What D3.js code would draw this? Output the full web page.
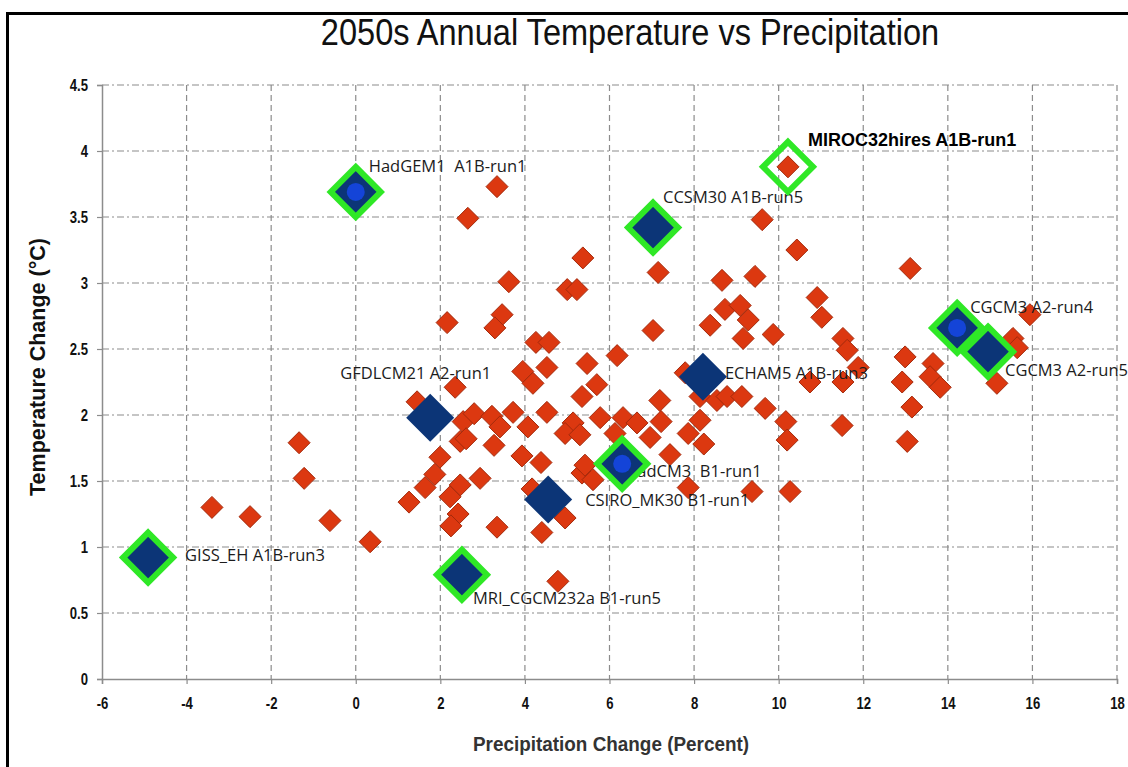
<!DOCTYPE html>
<html>
<head>
<meta charset="utf-8">
<script src="https://cdn.jsdelivr.net/npm/d3@7"></script>
<style>
body{margin:0;background:#fff;}
</style>
</head>
<body>
<div id="chart"></div>
<script>
// all model runs: precipitation change (percent) and temperature change (deg C)
var precip = [-3.40,-2.50,-1.34,-1.22,-0.61,0.34,1.26,1.45,2.16,2.65,3.34,3.62,3.46,3.29,4.26,4.57,5.37,5.00,5.23,3.95,
  4.19,4.52,2.35,2.54,2.80,3.22,3.41,3.72,4.07,4.52,2.47,2.61,3.27,3.93,4.38,1.99,1.87,1.64,2.94,2.47,
  2.23,2.42,2.25,3.34,4.40,4.95,4.17,4.78,5.35,5.61,5.42,5.47,6.18,5.70,5.35,5.78,6.32,6.65,5.14,4.95,
  5.30,6.13,6.96,7.19,7.22,7.15,7.03,7.79,8.14,7.86,8.23,7.43,7.86,8.38,8.66,9.44,10.43,9.61,10.91,11.02,
  8.73,9.09,9.28,9.16,9.87,11.52,11.62,10.74,11.52,8.14,8.54,8.78,9.13,9.68,10.17,10.20,9.37,10.27,11.50,13.11,
  12.99,11.88,12.92,13.65,13.58,13.82,13.15,13.04,15.94,15.54,15.64,15.16,10.22];
var temp = [1.30,1.23,1.79,1.52,1.20,1.04,1.34,2.10,2.70,3.49,3.73,3.01,2.76,2.66,2.55,2.55,3.19,2.95,2.95,2.33,
  2.24,2.36,2.21,1.95,2.01,1.99,1.91,2.02,1.91,2.02,1.80,1.82,1.77,1.69,1.64,1.68,1.55,1.45,1.52,1.47,
  1.38,1.25,1.16,1.15,1.11,1.22,1.44,0.74,1.56,1.51,1.62,2.39,2.45,2.23,2.14,1.98,1.98,1.94,1.94,1.86,
  1.85,1.86,1.83,2.11,1.95,3.08,2.64,2.32,1.96,1.86,1.78,1.70,1.45,2.68,3.02,3.05,3.25,3.48,2.89,2.74,
  2.80,2.83,2.72,2.58,2.61,2.58,2.49,2.25,2.25,2.14,2.11,2.14,2.14,2.05,1.95,1.81,1.42,1.42,1.92,3.11,
  2.44,2.36,2.25,2.39,2.29,2.21,2.06,1.80,2.76,2.58,2.51,2.24,3.88];

// selected models
var modelNames = ["HadGEM1  A1B-run1","GISS_EH A1B-run3","MRI_CGCM232a B1-run5","GFDLCM21 A2-run1","CSIRO_MK30 B1-run1",
  "HadCM3  B1-run1","ECHAM5 A1B-run3","CCSM30 A1B-run5","CGCM3 A2-run4","CGCM3 A2-run5","MIROC32hires A1B-run1"];
var modelPrecip = [0.0,-4.91,2.51,1.76,4.55,6.30,8.21,7.03,14.22,14.95,10.22];
var modelTemp = [3.69,0.92,0.79,1.98,1.36,1.63,2.29,3.42,2.66,2.48,3.88];
var modelOutlined = [true,true,true,false,false,true,false,true,true,true,true];
var modelFilled = [true,true,true,true,true,true,true,true,true,true,false];
var modelDot = [true,false,false,false,false,true,false,false,true,false,false];
var modelBold = [false,false,false,false,false,false,false,false,false,false,true];
// label offsets from marker centre
var labelDx = [13,37,11,-90,37,3,22,10,13,17,20];
var labelDy = [-20,3,29,-39,7,13,2,-25,-15,24,-21];

var xTicks = [-6,-4,-2,0,2,4,6,8,10,12,14,16,18];
var yTicks = [0,0.5,1,1.5,2,2.5,3,3.5,4,4.5];

var w = 1128, h = 767;
var sans = "'Liberation Sans',Arial,sans-serif";
var labelFont = "'Open Sans',sans-serif";

var x = d3.scaleLinear().domain([-6,18]).range([102,1117]);
var y = d3.scaleLinear().domain([0,4.5]).range([679,85]);

var svg = d3.select("#chart").append("svg")
    .attr("width", w).attr("height", h);

// frame (cut off at right and bottom)
svg.append("line").attr("x1",6).attr("x2",w).attr("y1",13.5).attr("y2",13.5)
    .attr("stroke","#000").attr("stroke-width",3);
svg.append("line").attr("x1",7.5).attr("x2",7.5).attr("y1",12).attr("y2",h)
    .attr("stroke","#000").attr("stroke-width",3);

// narrow looking title
svg.append("text").attr("transform","translate(630,45) scale(0.88,1)").attr("text-anchor","middle")
    .attr("font-family",sans).attr("font-size",37).attr("fill","#111")
    .text("2050s Annual Temperature vs Precipitation");

// grid
svg.append("g").selectAll("line").data(xTicks.slice(1)).enter().append("line")
    .attr("x1",function(d){ return x(d); }).attr("x2",function(d){ return x(d); })
    .attr("y1",y(4.5)).attr("y2",y(0))
    .attr("stroke","#8c8c8c").attr("stroke-width",1.2).attr("stroke-dasharray","6,4");
svg.append("g").selectAll("line").data(yTicks.slice(1)).enter().append("line")
    .attr("x1",x(-6)).attr("x2",x(18))
    .attr("y1",function(d){ return y(d); }).attr("y2",function(d){ return y(d); })
    .attr("stroke","#8c8c8c").attr("stroke-width",1.2).attr("stroke-dasharray","7,3,2,3");

// axes
var xAxis = svg.append("g").attr("transform","translate(0,"+y(0)+")")
    .call(d3.axisBottom(x).tickValues(xTicks).tickSize(5).tickPadding(14).tickFormat(function(d){ return String(d); }));
var yAxis = svg.append("g").attr("transform","translate("+x(-6)+",0)")
    .call(d3.axisLeft(y).tickValues(yTicks).tickSize(5).tickPadding(12).tickFormat(function(d){ return String(d); }));
[xAxis,yAxis].forEach(function(a){
    a.select(".domain").attr("stroke","#8c8c8c").attr("stroke-width",1.5);
    a.selectAll(".tick line").attr("stroke","#8c8c8c").attr("stroke-width",1.2);
    a.selectAll(".tick text").attr("font-family",sans).attr("font-weight","bold")
        .attr("font-size",16).attr("fill","#111").attr("transform","scale(0.82,1)");
});

svg.append("text").attr("transform","translate(611,751) scale(0.9,1)").attr("text-anchor","middle")
    .attr("font-family",sans).attr("font-weight","bold").attr("font-size",21).attr("fill","#333")
    .text("Precipitation Change (Percent)");
svg.append("text").attr("transform","translate(45,367) rotate(-90)").attr("text-anchor","middle")
    .attr("font-family",sans).attr("font-weight","bold").attr("font-size",21.5).attr("fill","#111")
    .text("Temperature Change (\u00B0C)");

function diamond(r){
    return "M0,"+(-r)+"L"+r+",0L0,"+r+"L"+(-r)+",0Z";
}

// all runs
svg.append("g").selectAll("path").data(d3.range(precip.length)).enter().append("path")
    .attr("d",diamond(11))
    .attr("transform",function(i){ return "translate("+x(precip[i])+","+y(temp[i])+")"; })
    .attr("fill","#dc3810").attr("stroke","#a32a0c").attr("stroke-width",1);

// labels
svg.append("g").selectAll("text").data(d3.range(modelNames.length)).enter().append("text")
    .attr("x",function(i){ return x(modelPrecip[i])+labelDx[i]; })
    .attr("y",function(i){ return y(modelTemp[i])+labelDy[i]; })
    .attr("font-family",function(i){ return modelBold[i] ? sans : labelFont; })
    .attr("font-weight",function(i){ return modelBold[i] ? "bold" : "normal"; })
    .attr("font-size",function(i){ return modelBold[i] ? 18 : 16.5; })
    .attr("fill",function(i){ return modelBold[i] ? "#000" : "#1c1c1c"; })
    .attr("xml:space","preserve").style("white-space","pre")
    .text(function(i){ return modelNames[i]; });

// selected models
var sel = svg.append("g").selectAll("g").data(d3.range(modelNames.length)).enter().append("g")
    .attr("transform",function(i){ return "translate("+x(modelPrecip[i])+","+y(modelTemp[i])+")"; });
sel.filter(function(i){ return modelFilled[i]; }).append("path")
    .attr("d",function(i){ return diamond(modelOutlined[i] ? 25 : 24); })
    .attr("fill","#0c3577");
sel.filter(function(i){ return modelOutlined[i]; }).append("path")
    .attr("d",diamond(25))
    .attr("fill","none").attr("stroke","#2fe826").attr("stroke-width",6).attr("stroke-linejoin","miter");
sel.filter(function(i){ return modelDot[i]; }).append("circle")
    .attr("r",9).attr("fill","#1444d8");
</script>
</body>
</html>
